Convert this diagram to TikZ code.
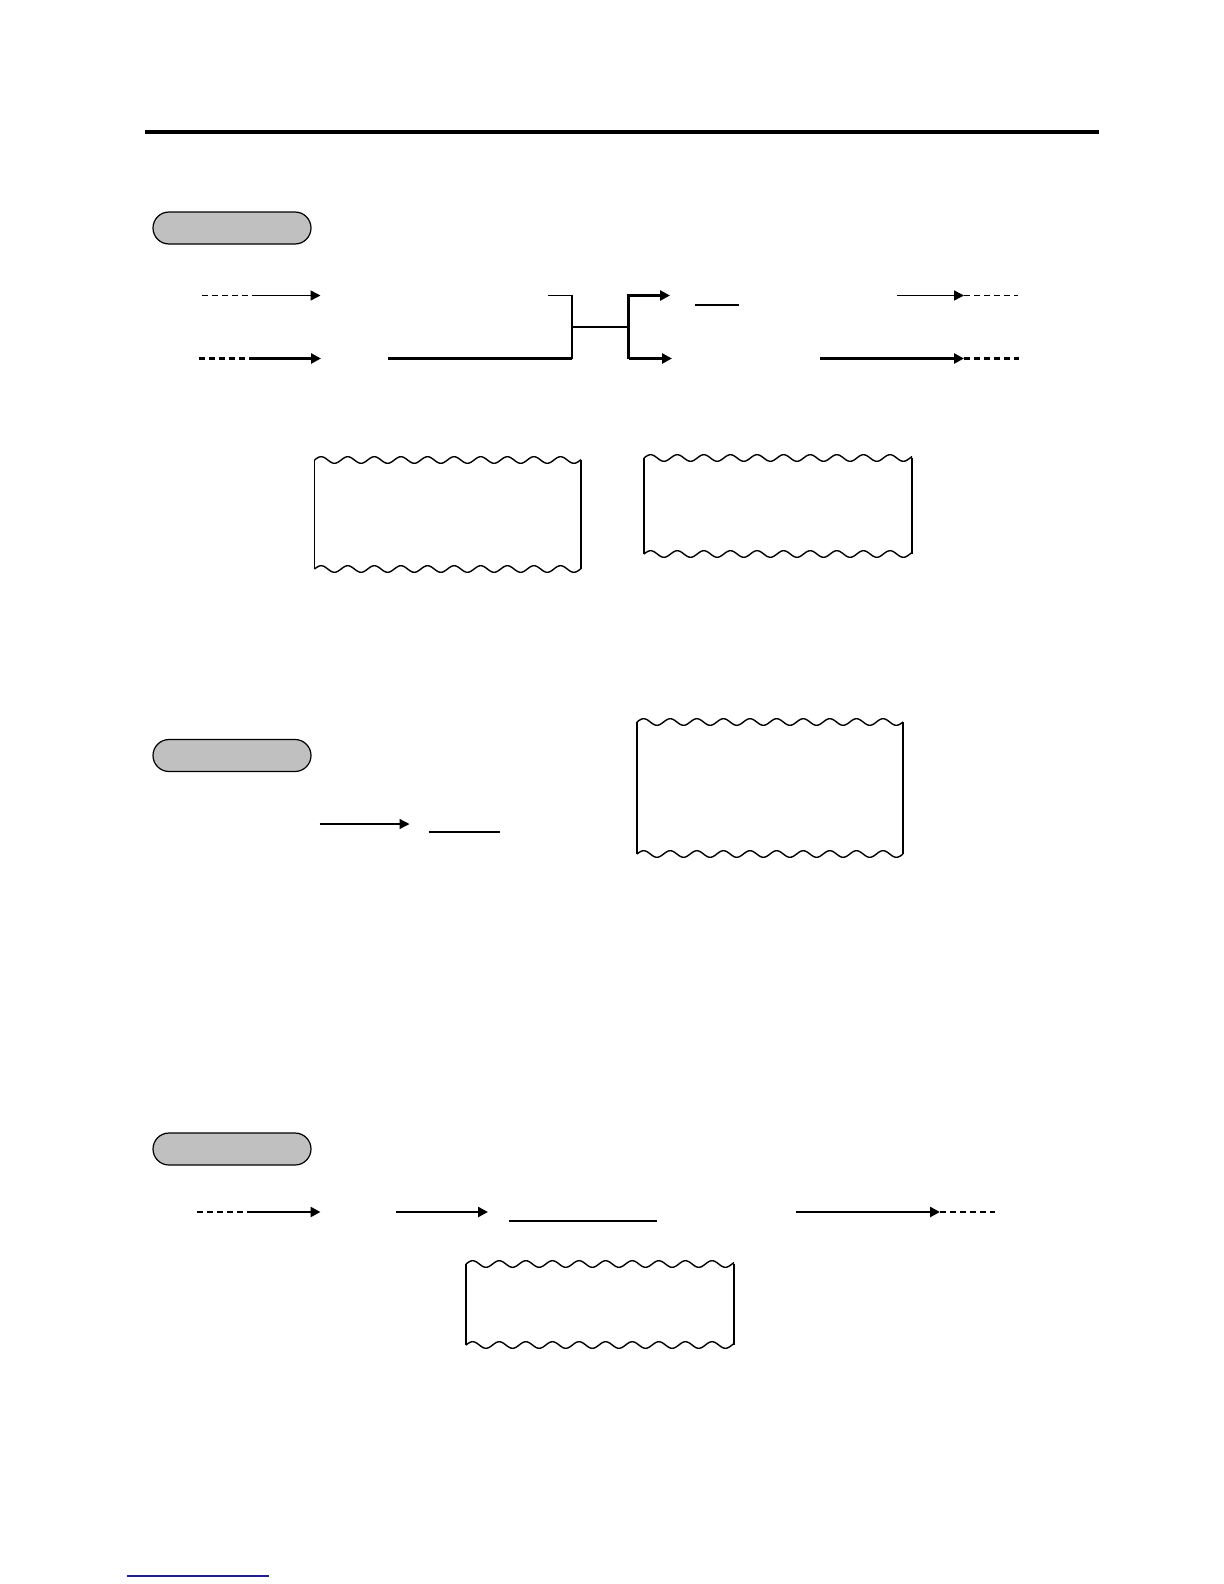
\documentclass[tikz,border=0pt]{standalone}
\usetikzlibrary{positioning,arrows.meta}
\definecolor{tagGray}{HTML}{C0C0C0}
\definecolor{noteBlue}{HTML}{1F1F8F}
\tikzset{%
  section tag/.style={
    draw,
    fill=tagGray,
    line width=0.6pt,
    rounded corners=8pt,
    minimum width=79pt,
    minimum height=16pt
  },
  thin feed/.style={line width=0.7pt},
  thick feed/.style={line width=1.3pt},
  lead dash/.style={dash pattern=on 3pt off 2pt},
}

\begin{document}
\begin{tikzpicture}[x=0.5pt, y=-0.5pt, > = {Triangle[length=5pt, width=5pt]}]
\useasboundingbox (0,0) rectangle (1224,1584);
\draw[line width=2pt] (144.5,132.5) -- (1099,132.5);

    % section tags
    \node[section tag] (tag_1) at (232,228) {};
    \node[section tag] (tag_2) at (232,755.5) {};
    \node[section tag] (tag_3) at (232,1149) {};

    % first section, split path
    \coordinate (in_1_s) at (202,295.5);  \coordinate (in_1_m) at (254,295.5);  \coordinate (in_1_e) at (320.5,295.5);
    \coordinate (in_2_s) at (199,358.5);  \coordinate (in_2_m) at (255,358.5);  \coordinate (in_2_e) at (321,358.5);
    \coordinate (join_b) at (388,358.5);  \coordinate (join_c) at (572,358.5);
    \coordinate (join_t) at (548,295.5);  \coordinate (join_tc) at (572,295.5);
    \coordinate (join_m) at (572,327);    \coordinate (split_m) at (628.5,327);
    \coordinate (split_t) at (628.5,295.5); \coordinate (split_b) at (628.5,358.5);
    \coordinate (out_1_e) at (670,295.5); \coordinate (out_2_e) at (672,358.5);
    \coordinate (under_1_s) at (694.5,305); \coordinate (under_1_e) at (739,305);
    \coordinate (end_1_s) at (897,295.5); \coordinate (end_1_m) at (964,295.5); \coordinate (end_1_e) at (1018,295.5);
    \coordinate (end_2_s) at (820,358.5); \coordinate (end_2_m) at (964,358.5); \coordinate (end_2_e) at (1019,358.5);

    \draw[thin feed, lead dash] (in_1_s) -- (in_1_m);
    \draw[thin feed, ->] (in_1_m) -- (in_1_e);
    \draw[thick feed, lead dash] (in_2_s) -- (in_2_m);
    \draw[thick feed, ->] (in_2_m) -- (in_2_e);
    \draw[thick feed] (join_b) -- (join_c);
    \draw[thin feed] (join_t) -- (join_tc) -- (join_c);
    \draw[thin feed] (join_m) -- (split_m);
    \draw[thick feed, ->] (split_b) -- (split_t) -- (out_1_e);
    \draw[thick feed, ->] (split_b) -- (out_2_e);
    \draw[thin feed] (under_1_s) -- (under_1_e);
    \draw[thin feed, ->] (end_1_s) -- (end_1_m);
    \draw[thin feed, lead dash] (end_1_m) -- (end_1_e);
    \draw[thick feed, ->] (end_2_s) -- (end_2_m);
    \draw[thick feed, lead dash] (end_2_m) -- (end_2_e);

    % second section
    \coordinate (mid_s) at (319.5,824);   \coordinate (mid_e) at (409.5,824);
    \coordinate (under_2_s) at (428.5,832); \coordinate (under_2_e) at (499.5,832);
    \draw[thin feed, ->] (mid_s) -- (mid_e);
    \draw[thick feed] (under_2_s) -- (under_2_e);

    % third section
    \coordinate (low_1_s) at (197,1212); \coordinate (low_1_m) at (253,1212); \coordinate (low_1_e) at (320.5,1212);
    \coordinate (low_2_s) at (396,1212); \coordinate (low_2_e) at (488,1212);
    \coordinate (under_3_s) at (508.5,1221); \coordinate (under_3_e) at (657,1221);
    \coordinate (low_3_s) at (795.5,1212); \coordinate (low_3_m) at (940,1212); \coordinate (low_3_e) at (995,1212);
    \draw[thick feed, lead dash] (low_1_s) -- (low_1_m);
    \draw[thick feed, ->] (low_1_m) -- (low_1_e);
    \draw[thick feed, ->] (low_2_s) -- (low_2_e);
    \draw[thick feed] (under_3_s) -- (under_3_e);
    \draw[thick feed, ->] (low_3_s) -- (low_3_m);
    \draw[thick feed, lead dash] (low_3_m) -- (low_3_e);

    % torn slips
    \foreach \xa/\xb/\ya/\yb in {314.5/581/460/569, 644/912/458/554, 637/903/722/854, 466/734/1264/1345}
    {
        \draw[thin feed] plot[domain=\xa:\xb, samples=180, smooth] (\x, {\ya - 3.3*sin((\x-\xa)/26.6*360)});
        \draw[thin feed] plot[domain=\xa:\xb, samples=180, smooth] (\x, {\yb - 3.3*sin((\x-\xa)/26.6*360)});
        \draw[thin feed] (\xa,\ya) -- (\xa,\yb);
        \draw[thin feed] (\xb,\ya) -- (\xb,\yb);
    }

    \draw[noteBlue, line width=1pt] (127,1576) -- (269,1576);
\end{tikzpicture}
\end{document}
